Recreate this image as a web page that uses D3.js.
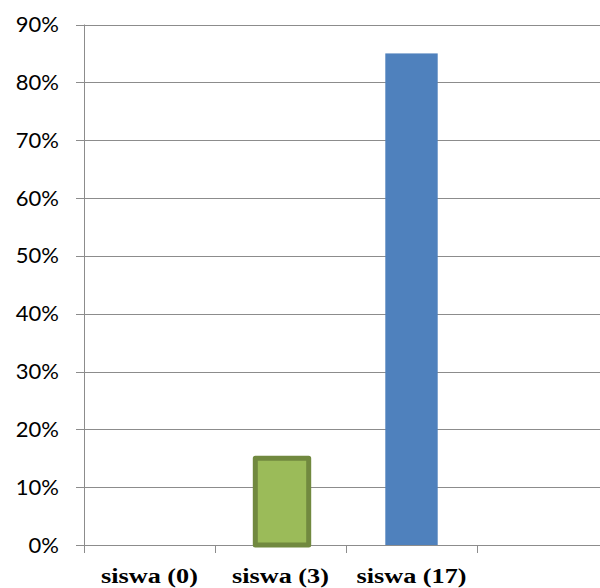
<!DOCTYPE html>
<html>
<head>
<meta charset="utf-8">
<script src="https://cdn.jsdelivr.net/npm/d3@7"></script>
<style>
  html, body { margin: 0; padding: 0; background: #fff; }
  svg { display: block; }
</style>
</head>
<body>
<svg id="chart" width="600" height="588"></svg>
<script>
// Category labels along the bottom (the last slot is an empty category)
const categories = ["siswa (0)", "siswa (3)", "siswa (17)", ""];
// Share of students per category, in percent
const values = [0, 15, 85, null];
// Bar colours per category
const fills = ["#9BBB59", "#9BBB59", "#4F81BD", "#4F81BD"];
const strokes = ["#71893F", "#71893F", "none", "none"];
// Y axis ticks
const yTicks = [0, 10, 20, 30, 40, 50, 60, 70, 80, 90];

const svg = d3.select("#chart");
const margin = { left: 84, top: 24.5, bottom: 43 };
const W = 600, H = 588;
const plotRight = margin.left + 131 * categories.length;

const x = d3.scaleBand()
  .domain(categories.map((c, i) => i))
  .range([margin.left, plotRight])
  .paddingInner(0.6)
  .paddingOuter(0.3);

const y = d3.scaleLinear()
  .domain([0, 90])
  .range([H - margin.bottom, margin.top]);

const gridColor = "#8c8c8c";

// Horizontal gridlines, with a short tick stub left of the axis
svg.append("g")
  .selectAll("line")
  .data(yTicks)
  .join("line")
  .attr("x1", margin.left - 8)
  .attr("x2", W)
  .attr("y1", d => Math.round(y(d)) + 0.5)
  .attr("y2", d => Math.round(y(d)) + 0.5)
  .attr("stroke", gridColor)
  .attr("stroke-width", 1);

// Y axis labels
const yAxis = d3.axisLeft(y).tickValues(yTicks).tickFormat(d => d + "%").tickSize(0).tickPadding(25);
const gy = svg.append("g").attr("transform", `translate(${margin.left},0)`).call(yAxis);
gy.select(".domain").remove();
gy.selectAll("text")
  .attr("font-family", "Lato, 'Open Sans', sans-serif")
  .attr("font-size", 22)
  .attr("fill", "#000");

// Vertical axis line
svg.append("line")
  .attr("x1", margin.left + 0.5).attr("x2", margin.left + 0.5)
  .attr("y1", y(90)).attr("y2", y(0) + 8)
  .attr("stroke", gridColor);

// Category ticks on the x axis (band boundaries)
const xb = d3.scaleLinear().domain([0, categories.length]).range([margin.left, plotRight]);
svg.append("g")
  .selectAll("line")
  .data(d3.range(categories.length + 1))
  .join("line")
  .attr("x1", d => Math.round(xb(d)) + 0.5)
  .attr("x2", d => Math.round(xb(d)) + 0.5)
  .attr("y1", y(0))
  .attr("y2", y(0) + 8)
  .attr("stroke", gridColor);

// Bars
const barData = values.map((v, i) => ({ i, v })).filter(d => d.v != null && d.v > 0);
svg.append("g")
  .selectAll("rect")
  .data(barData)
  .join("rect")
  .attr("x", d => x(d.i) + (strokes[d.i] !== "none" ? 1 : 0))
  .attr("width", d => x.bandwidth() + (strokes[d.i] !== "none" ? 1 : 0))
  .attr("y", d => y(d.v))
  .attr("height", d => y(0) - y(d.v))
  .attr("fill", d => fills[d.i])
  .attr("stroke", d => strokes[d.i])
  .attr("stroke-width", 5)
  .attr("stroke-linejoin", "round");

// Category labels
svg.append("g")
  .selectAll("text")
  .data(categories)
  .join("text")
  .attr("transform", (d, i) => `translate(${x(i) + x.bandwidth() / 2},583) scale(1.22,1)`)
  .attr("text-anchor", "middle")
  .attr("font-family", "'Liberation Serif', 'Times New Roman', serif")
  .attr("font-weight", "bold")
  .attr("font-size", 21.5)
  .attr("fill", "#000")
  .text(d => d);
</script>
</body>
</html>
